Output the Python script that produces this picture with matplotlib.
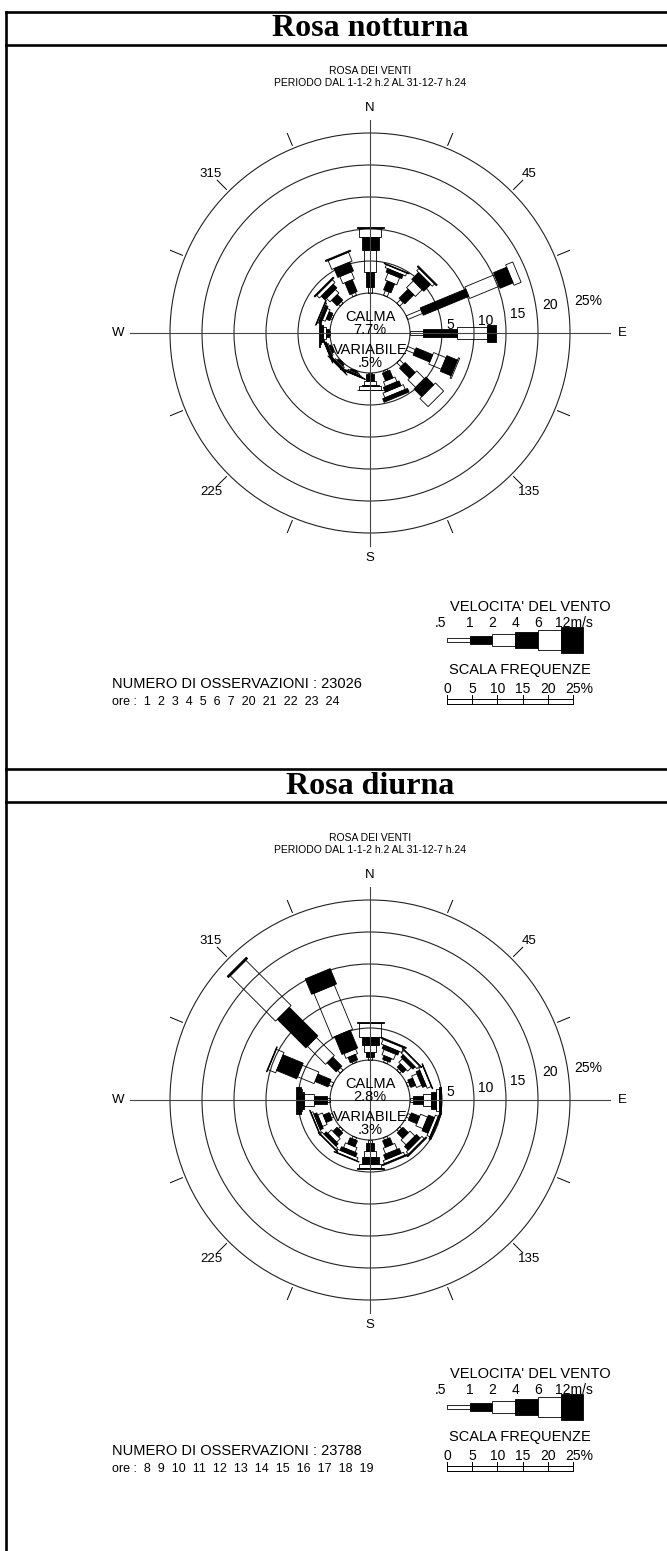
import numpy as np
import matplotlib
matplotlib.use('Agg')
import matplotlib.pyplot as plt
from matplotlib.patches import Polygon, Circle, Rectangle

plt.rcParams['font.family'] = ['Liberation Sans', 'DejaVu Sans']

# 16 sectors, clockwise from north
directions = np.arange(0, 360, 22.5)
speed_labels = ['.5', '1', '2', '4', '6', '12m/s']
scale_ticks = [0, 5, 10, 15, 20, 25]
ring_values = [5, 10, 15, 20, 25]

# frequency (%) per sector for each speed class - night hours
night_05_1 = [1.0, 0.8, 0.8, 2.5, 2.0, 1.3, 0.9, 0.3, 0.2, 0.1, 0.1, 0.1, 0.2, 0.3, 0.4, 0.5]
night_1_2 = [2.3, 1.5, 2.0, 7.7, 5.3, 2.8, 2.2, 1.3, 1.0, 0.2, 0.3, 0.3, 0.5, 0.6, 1.2, 2.0]
night_2_4 = [3.4, 1.2, 1.5, 5.0, 4.8, 2.1, 1.7, 0.8, 0.6, 0.2, 0.2, 0.2, 0.4, 0.5, 0.8, 1.2]
night_4_6 = [2.0, 0.6, 1.5, 2.2, 1.4, 1.8, 1.7, 0.8, 0.3, 0.1, 0.2, 0.2, 0.3, 0.4, 0.8, 1.5]
night_6_12 = [1.4, 0.5, 0.5, 1.2, 0.0, 0.2, 1.8, 0.8, 0.5, 0.1, 0.1, 0.1, 0.2, 0.2, 0.6, 1.5]
night_12p = [0.15, 0.1, 0.2, 0.0, 0.0, 0.0, 0.0, 0.6, 0.1, 0.05, 0.05, 0.05, 0.1, 0.1, 0.2, 0.2]

# same for day hours
day_05_1 = [0.4, 0.4, 0.4, 0.4, 0.5, 0.5, 0.4, 0.4, 0.5, 0.4, 0.4, 0.4, 0.5, 0.6, 0.6, 0.3]
day_1_2 = [0.8, 0.6, 0.7, 0.8, 1.5, 1.4, 1.2, 1.1, 1.2, 1.0, 0.9, 1.0, 2.0, 2.2, 2.0, 0.9]
day_2_4 = [1.1, 0.9, 0.8, 0.9, 1.3, 1.2, 1.1, 1.0, 1.0, 0.8, 0.8, 0.8, 1.6, 2.8, 4.0, 0.8]
day_4_6 = [1.25, 0.6, 0.5, 0.6, 0.8, 1.0, 0.8, 0.8, 1.0, 0.6, 0.5, 0.5, 0.3, 3.4, 6.3, 3.0]
day_6_12 = [2.2, 0.8, 0.6, 0.7, 0.5, 0.5, 0.5, 0.5, 0.6, 0.5, 0.4, 0.3, 0.2, 1.3, 10.0, 7.5]
day_12p = [0.15, 0.2, 0.1, 0.1, 0.3, 0.3, 0.2, 0.2, 0.3, 0.1, 0.1, 0.1, 0.7, 0.1, 0.3, 2.6]

night_calma, night_var = '7.7%', '.5%'
day_calma, day_var = '2.8%', '.3%'
night_obs, day_obs = 23026, 23788
night_hours = [1, 2, 3, 4, 5, 6, 7, 20, 21, 22, 23, 24]
day_hours = [8, 9, 10, 11, 12, 13, 14, 15, 16, 17, 18, 19]

W, H = 667, 1551
PX = 6.4            # pixels per 1 %
R0 = 40 / PX        # calm circle radius (in % units)
HALF = 270          # half size of rose axes, px
widths = [4, 8, 12.5, 17, 22, 27]   # bar width per speed class, px
filled = [False, True, False, True, False, True]

fig = plt.figure(figsize=(W / 100, H / 100), dpi=100)
page = fig.add_axes([0, 0, 1, 1])
page.set_xlim(0, W)
page.set_ylim(H, 0)
page.axis('off')

# table frame
lw_frame = 1.9
page.plot([6, 6], [12, H], color='black', lw=lw_frame)
for yy in [12, 45, 769, 802]:
    page.plot([6, W], [yy, yy], color='black', lw=lw_frame)
page.text(370, 29, 'Rosa notturna', family='Liberation Serif', weight='bold',
          fontsize=23, ha='center', va='center')
page.text(370, 786, 'Rosa diurna', family='Liberation Serif', weight='bold',
          fontsize=23, ha='center', va='center')


def draw_rose(cy, classes, calma, variabile, n_obs, hours):
    cx = 370
    ax = fig.add_axes([(cx - HALF) / W, (H - cy - HALF) / H, 2 * HALF / W, 2 * HALF / H])
    lim = HALF / PX
    ax.set_xlim(-lim, lim)
    ax.set_ylim(-lim, lim)
    ax.axis('off')

    # frequency rings
    ax.add_patch(Circle((0, 0), R0, fill=False, lw=0.8, color='#222222'))
    for v in ring_values:
        ax.add_patch(Circle((0, 0), R0 + v, fill=False, lw=0.8, color='#222222'))

    # stacked speed-class bars
    vals = np.array(classes)
    for i, d in enumerate(directions):
        t = np.radians(d)
        u = np.array([np.sin(t), np.cos(t)])
        p = np.array([np.cos(t), -np.sin(t)])
        r = R0
        for k in range(6):
            f = vals[k, i]
            if f <= 0:
                continue
            hw = widths[k] / PX / 2
            pts = [u * r + p * hw, u * (r + f) + p * hw,
                   u * (r + f) - p * hw, u * r - p * hw]
            ax.add_patch(Polygon(pts, closed=True,
                                 facecolor='black' if filled[k] else 'none',
                                 edgecolor='black', lw=0.6))
            r += f

    # cardinal axes and sector ticks
    ax.plot([0, 0], [-213 / PX, 213 / PX], color='#444444', lw=0.8)
    ax.plot([-240 / PX, 240 / PX], [0, 0], color='#444444', lw=0.8)
    for d in directions:
        if d % 90 == 0:
            continue
        t = np.radians(d)
        ax.plot([203 / PX * np.sin(t), 216 / PX * np.sin(t)],
                [203 / PX * np.cos(t), 216 / PX * np.cos(t)], color='black', lw=0.7)
    rl = 225 / PX
    ax.text(0, rl, 'N', fontsize=9.5, ha='center', va='center')
    ax.text(0, -rl, 'S', fontsize=9.5, ha='center', va='center')
    ax.text(-252 / PX, 0, 'W', fontsize=9.5, ha='center', va='center')
    ax.text(252 / PX, 0, 'E', fontsize=9.5, ha='center', va='center')
    for d in [45, 135, 225, 315]:
        t = np.radians(d)
        ax.text(rl * np.sin(t), rl * np.cos(t), str(d), fontsize=9.5,
                ha='center', va='center')

    # ring labels
    dys = [8, 12, 19, 28, 32]
    for v, dy in zip(ring_values, dys):
        lab = '%d%%' % v if v == ring_values[-1] else str(v)
        ax.text(R0 + v + 4 / PX, dy / PX, lab, fontsize=10, ha='left', va='center')

    ax.text(0, 16 / PX, 'CALMA', fontsize=10.5, ha='center', va='center')
    ax.text(0, 3 / PX, calma, fontsize=10.5, ha='center', va='center')
    ax.text(0, -17 / PX, 'VARIABILE', fontsize=10.5, ha='center', va='center')
    ax.text(0, -30 / PX, variabile, fontsize=10.5, ha='center', va='center')

    # header of the rose
    top = cy - 333
    page.text(370, top + 71, 'ROSA DEI VENTI', fontsize=7.5, ha='center', va='center')
    page.text(370, top + 83, 'PERIODO DAL 1-1-2 h.2 AL 31-12-7 h.24', fontsize=7.5,
              ha='center', va='center')

    # speed legend
    page.text(530, top + 607, "VELOCITA' DEL VENTO", fontsize=10.5, ha='center', va='center')
    x0, seg = 447, 22.7
    for k in range(6):
        h = widths[k] * 0.95
        page.add_patch(Rectangle((x0 + k * seg, top + 640 - h / 2), seg, h,
                                 facecolor='black' if filled[k] else 'white',
                                 edgecolor='black', lw=0.6))
    for k, lab in enumerate(speed_labels):
        xx = x0 + k * seg
        if k == 0:
            page.text(xx - 1, top + 623, lab, fontsize=10, ha='right', va='center')
        elif k == 5:
            page.text(xx - 6, top + 623, lab, fontsize=10, ha='left', va='center')
        else:
            page.text(xx, top + 623, lab, fontsize=10, ha='center', va='center')

    # frequency scale bar
    page.text(520, top + 670, 'SCALA FREQUENZE', fontsize=10.5, ha='center', va='center')
    sx, sp = 447, 5.04
    page.plot([sx, sx + 25 * sp], [top + 699, top + 699], color='black', lw=0.7)
    page.plot([sx, sx + 25 * sp], [top + 704, top + 704], color='black', lw=0.7)
    for v in scale_ticks:
        page.plot([sx + v * sp] * 2, [top + 695, top + 704], color='black', lw=0.7)
        lab = '%d%%' % v if v == scale_ticks[-1] else str(v)
        off = 6 if v == scale_ticks[-1] else 0
        page.text(sx + v * sp + off, top + 689, lab, fontsize=10, ha='center', va='center')

    page.text(112, top + 684, 'NUMERO DI OSSERVAZIONI : %d' % n_obs, fontsize=10.5,
              ha='left', va='center')
    page.text(112, top + 702, 'ore :  ' + '  '.join(str(h) for h in hours), fontsize=9,
              ha='left', va='center')


draw_rose(333, [night_05_1, night_1_2, night_2_4, night_4_6, night_6_12, night_12p],
          night_calma, night_var, night_obs, night_hours)
draw_rose(1100, [day_05_1, day_1_2, day_2_4, day_4_6, day_6_12, day_12p],
          day_calma, day_var, day_obs, day_hours)

fig.savefig('out.png', dpi=100, facecolor='white')
